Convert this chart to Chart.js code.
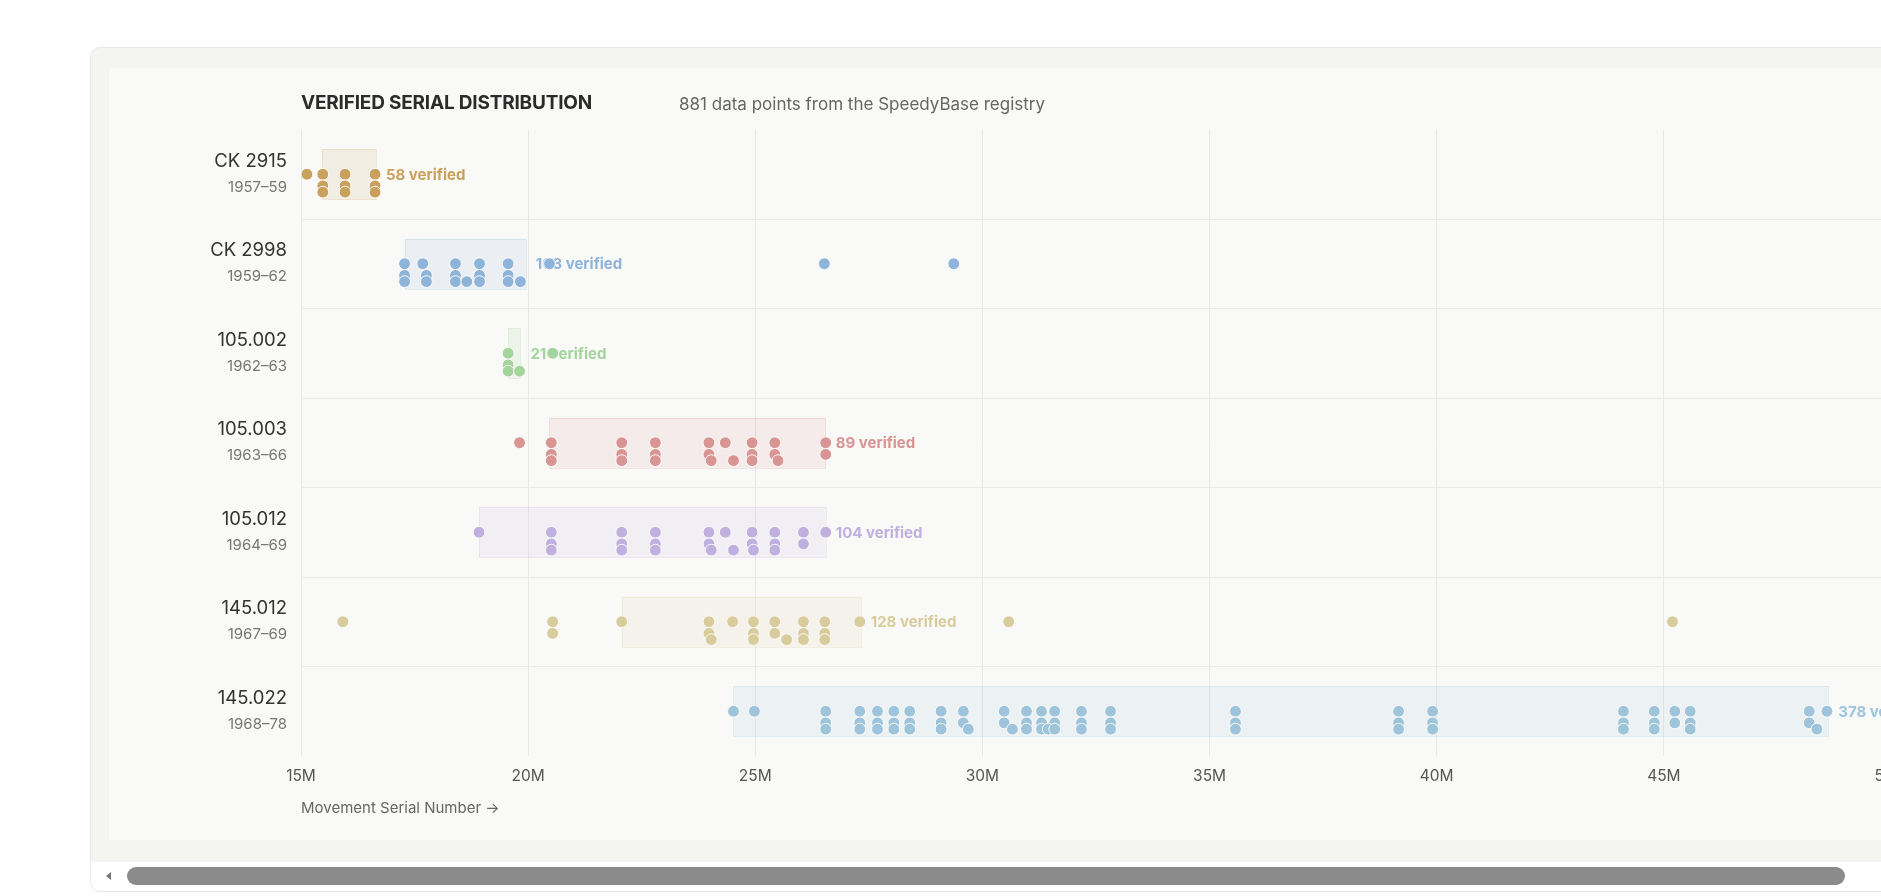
<!DOCTYPE html>
<html>
<head>
<meta charset="utf-8">
<title>Verified serial distribution</title>
<script src="https://cdn.jsdelivr.net/npm/chart.js@4.4.1/dist/chart.umd.min.js"></script>
<style>
  html, body {
    margin: 0;
    padding: 0;
    width: 1881px;
    height: 896px;
    overflow: hidden;
    background: #ffffff;
    font-family: Inter, "Noto Sans", sans-serif;
  }
  .card {
    position: absolute;
    left: 90px;
    top: 47px;
    width: 1810px;
    height: 845px;
    box-sizing: border-box;
    background: #f4f4f1;
    border: 1px solid #e8e8e4;
    border-radius: 10px;
    overflow: hidden;
  }
  .content {
    position: absolute;
    left: 0;
    top: 0;
    width: 1858px;
    height: 814px;
    box-sizing: border-box;
    padding: 20px 18px 22px 18px;
  }
  .inner {
    position: relative;
    width: 1822px;
    height: 772px;
    background: #f9f9f7;
  }
  .title {
    position: absolute;
    left: 192px;
    top: 23px;
    font-size: 19px;
    line-height: 24px;
    font-weight: 700;
    color: #2b2b2b;
    letter-spacing: -0.2px;
  }
  .sub {
    position: absolute;
    left: 570px;
    top: 24px;
    font-size: 17px;
    line-height: 24px;
    color: #666;
  }
  canvas { position: absolute; left: 0; top: 0; }
  /* horizontal scrollbar of the card */
  .hbar {
    position: absolute;
    left: 0;
    top: 814px;
    width: 100%;
    height: 29px;
    background: #ffffff;
  }
  .hbar .arrow {
    position: absolute;
    left: 15px;
    top: 10px;
    width: 0;
    height: 0;
    border-top: 4.5px solid transparent;
    border-bottom: 4.5px solid transparent;
    border-right: 5px solid #777;
  }
  .hbar .thumb {
    position: absolute;
    left: 36px;
    top: 5px;
    width: 1718px;
    height: 18px;
    border-radius: 9px;
    background: #8b8b8b;
  }
</style>
</head>
<body>
<div class="card">
  <div class="content">
    <div class="inner">
      <canvas id="chart" width="1822" height="772"></canvas>
      <div class="title">VERIFIED SERIAL DISTRIBUTION</div>
      <div class="sub">881 data points from the SpeedyBase registry</div>
    </div>
  </div>
  <div class="hbar"><div class="arrow"></div><div class="thumb"></div></div>
</div>
<script>
/* ---------- data (serials in millions) ---------- */
const MODELS = ["CK 2915", "CK 2998", "105.002", "105.003", "105.012", "145.012", "145.022"];
const YEARS = ["1957–59", "1959–62", "1962–63", "1963–66", "1964–69", "1967–69", "1968–78"];
const VERIFIED = [58, 103, 21, 89, 104, 128, 378];
const COLORS = ["#c9a15c", "#8fb4da", "#a3d49c", "#d99494", "#c0b0e0", "#d9cc9c", "#9ec4dc"];
const RANGE_LOW = [15.46, 17.28, 19.56, 20.47, 18.92, 22.06, 24.52];
const RANGE_HIGH = [16.65, 19.95, 19.83, 26.55, 26.55, 27.32, 48.62];
const X_TICKS = [15, 20, 25, 30, 35, 40, 45, 50];

// each model: [first tier, second tier, third tier] of stacked dots
const SERIALS_CK2915 = [
  [15.13, 15.48, 15.97, 16.63],
  [15.48, 15.97, 16.63],
  [15.48, 15.97, 16.63],
];
const SERIALS_CK2998 = [
  [17.28, 17.68, 18.40, 18.93, 19.56, 20.47, 26.52, 29.37],
  [17.28, 17.76, 18.40, 18.93, 19.56],
  [17.28, 17.76, 18.40, 18.65, 18.93, 19.56, 19.83],
];
const SERIALS_105002 = [
  [19.56, 20.54],
  [19.56],
  [19.56, 19.81],
];
const SERIALS_105003 = [
  [19.81, 20.51, 22.06, 22.80, 23.98, 24.34, 24.93, 25.43, 26.55],
  [20.51, 22.06, 22.80, 23.98, 24.93, 25.43, 26.55],
  [20.51, 22.06, 22.80, 24.03, 24.52, 24.93, 25.50],
];
const SERIALS_105012 = [
  [18.92, 20.51, 22.06, 22.80, 23.98, 24.34, 24.93, 25.43, 26.06, 26.55],
  [20.51, 22.06, 22.80, 23.98, 24.93, 25.43, 26.06],
  [20.51, 22.06, 22.80, 24.03, 24.52, 24.96, 25.43],
];
const SERIALS_145012 = [
  [15.92, 20.54, 22.06, 23.98, 24.50, 24.96, 25.43, 26.06, 26.53, 27.30, 30.58, 45.19],
  [20.54, 23.98, 24.96, 25.43, 26.06, 26.53],
  [24.03, 24.96, 25.69, 26.06, 26.53],
];
const SERIALS_145022 = [
  [24.52, 24.98, 26.55, 27.30, 27.69, 28.05, 28.40, 29.09, 29.58, 30.48, 30.97, 31.30,
   31.59, 32.18, 32.82, 35.57, 39.16, 39.91, 44.11, 44.79, 45.24, 45.58, 48.20, 48.59],
  [26.55, 27.30, 27.69, 28.05, 28.40, 29.09, 29.58, 30.48, 30.97, 31.30, 31.59, 32.18,
   32.82, 35.57, 39.16, 39.91, 44.11, 44.79, 45.24, 45.58, 48.20],
  [26.55, 27.30, 27.69, 28.05, 28.40, 29.09, 29.69, 30.66, 30.97, 31.30, 31.45, 31.59,
   32.18, 32.82, 35.57, 39.16, 39.91, 44.11, 44.79, 45.58, 48.37],
];
const SERIALS = [SERIALS_CK2915, SERIALS_CK2998, SERIALS_105002, SERIALS_105003,
                 SERIALS_105012, SERIALS_145012, SERIALS_145022];

/* ---------- layout ---------- */
const TIER_OFFSET = [0, 0.13, 0.2]; // fraction of a row
const BOX_HALF = 0.28;
const ROW_LINES = [0.5, 1.5, 2.5, 3.5, 4.5, 5.5];
const FONT = "Inter, 'Noto Sans', sans-serif";

const hexAlpha = (hex, a) => {
  const n = parseInt(hex.slice(1), 16);
  return `rgba(${(n >> 16) & 255}, ${(n >> 8) & 255}, ${n & 255}, ${a})`;
};

const datasets = SERIALS.map((tiers, row) => ({
  label: MODELS[row],
  data: tiers.flatMap((list, t) => list.map((v) => ({ x: v, y: row + TIER_OFFSET[t] }))),
  backgroundColor: COLORS[row],
  borderColor: "#fafaf8",
  borderWidth: 1,
  pointRadius: 5.9,
  pointHoverRadius: 5.9,
}));

/* ranges, counts and row labels */
const rowDecor = {
  id: "rowDecor",
  beforeDatasetsDraw(chart) {
    const { ctx, scales: { x, y } } = chart;
    ctx.save();
    MODELS.forEach((m, i) => {
      const x0 = x.getPixelForValue(RANGE_LOW[i]);
      const x1 = x.getPixelForValue(RANGE_HIGH[i]);
      const y0 = y.getPixelForValue(i - BOX_HALF);
      const y1 = y.getPixelForValue(i + BOX_HALF);
      ctx.fillStyle = hexAlpha(COLORS[i], 0.13);
      ctx.fillRect(x0, y0, x1 - x0, y1 - y0);
      ctx.strokeStyle = hexAlpha(COLORS[i], 0.22);
      ctx.lineWidth = 1;
      ctx.strokeRect(Math.round(x0) + 0.5, Math.round(y0) + 0.5, Math.round(x1 - x0), Math.round(y1 - y0));

      ctx.fillStyle = COLORS[i];
      ctx.font = `700 15px ${FONT}`;
      ctx.textAlign = "left";
      ctx.textBaseline = "middle";
      ctx.fillText(`${VERIFIED[i]} verified`, x1 + 10, y.getPixelForValue(i) + 1);
    });
    ctx.restore();
  },
  afterDraw(chart) {
    const { ctx, chartArea, scales: { y } } = chart;
    ctx.save();
    ctx.textAlign = "right";
    ctx.textBaseline = "middle";
    MODELS.forEach((m, i) => {
      const cy = y.getPixelForValue(i);
      ctx.fillStyle = "#333";
      ctx.font = `18.5px ${FONT}`;
      ctx.fillText(m, chartArea.left - 14, cy - 13);
      ctx.fillStyle = "#777";
      ctx.font = `15px ${FONT}`;
      ctx.fillText(YEARS[i], chartArea.left - 14, cy + 13);
    });
    ctx.restore();
  },
};

new Chart(document.getElementById("chart"), {
  type: "scatter",
  data: { datasets: datasets.slice().reverse() },
  plugins: [rowDecor],
  options: {
    responsive: false,
    animation: false,
    layout: { padding: { left: 192, top: 61.5, right: 40, bottom: 0 } },
    plugins: { legend: { display: false }, tooltip: { enabled: false } },
    scales: {
      x: {
        type: "linear",
        min: 15,
        max: 50,
        afterBuildTicks: (s) => { s.ticks = X_TICKS.map((v) => ({ value: v })); },
        afterFit: (s) => { s.height = 84; },
        ticks: {
          callback: (v) => `${v}M`,
          color: "#555",
          padding: 11,
          maxRotation: 0,
          font: { family: "Inter", size: 15.5 },
        },
        grid: { color: "#e8e8e4", drawTicks: false },
        border: { display: false },
        title: {
          display: true,
          text: "Movement Serial Number →",
          align: "start",
          color: "#666",
          padding: { top: 0, bottom: 23 },
          font: { family: "Inter", size: 15 },
        },
      },
      y: {
        type: "linear",
        reverse: true,
        min: -0.5,
        max: 6.5,
        afterBuildTicks: (s) => { s.ticks = ROW_LINES.map((v) => ({ value: v })); },
        afterFit: (s) => { s.width = 0; },
        ticks: { display: false },
        grid: { color: "#ebebe7", drawTicks: false },
        border: { display: false },
      },
    },
  },
});
</script>
</body>
</html>
